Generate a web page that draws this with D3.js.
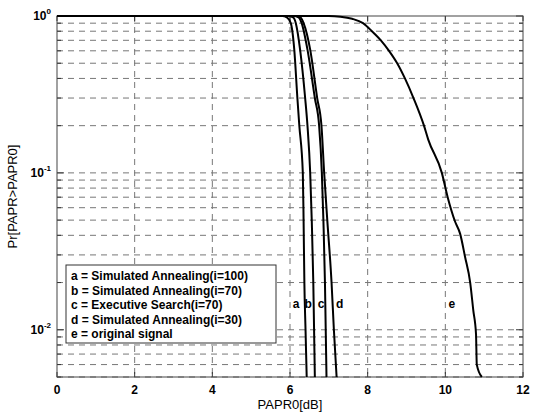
<!DOCTYPE html>
<html>
<head>
<meta charset="utf-8">
<script src="https://cdn.jsdelivr.net/npm/d3@7/dist/d3.min.js"></script>
<style>
  body { margin: 0; background: #fff; }
  svg { display: block; font-family: "Liberation Sans", Arial, sans-serif; }
</style>
</head>
<body>
<svg class="chart"></svg>
<script>
// values: [PAPR0 dB, Pr]
var curveA = [[0,1],[5.8,1],[5.92,0.98],[6.02,0.9],[6.11,0.61],[6.19,0.3],[6.24,0.2],[6.33,0.1],[6.35,0.05],[6.37,0.02],[6.40,0.01],[6.43,0.005]];
var curveB = [[0,1],[5.95,1],[6.08,0.98],[6.15,0.9],[6.26,0.61],[6.39,0.3],[6.45,0.2],[6.52,0.1],[6.56,0.05],[6.60,0.02],[6.62,0.01],[6.64,0.005]];
var curveC = [[0,1],[6.1,1],[6.22,0.98],[6.3,0.9],[6.45,0.61],[6.64,0.3],[6.75,0.2],[6.82,0.1],[6.86,0.05],[6.90,0.02],[6.92,0.01],[6.94,0.005]];
var curveD = [[0,1],[6.15,1],[6.27,0.98],[6.35,0.9],[6.52,0.61],[6.70,0.3],[6.81,0.2],[6.88,0.1],[6.96,0.05],[7.07,0.02],[7.13,0.01],[7.20,0.005]];
var curveE = [[0,1],[7.0,1],[7.3,0.99],[7.6,0.96],[7.88,0.9],[8.11,0.8],[8.34,0.7],[8.55,0.6],[8.76,0.5],[8.96,0.4],[9.18,0.3],[9.45,0.2],[9.56,0.163],[9.91,0.1],[10.06,0.07],[10.25,0.049],[10.38,0.041],[10.51,0.029],[10.64,0.02],[10.72,0.0133],[10.79,0.0094],[10.81,0.006],[10.94,0.005]];

var curveNames = ["a", "b", "c", "d", "e"];
var legendLabels = [
	"a = Simulated Annealing(i=100)",
	"b = Simulated Annealing(i=70)",
	"c = Executive Search(i=70)",
	"d = Simulated Annealing(i=30)",
	"e = original signal"
];
// where the little letters sit next to the curves
var letterX = [6.16, 6.47, 6.8, 7.28, 10.17];
var letterY = 0.0145;

var xTicks = [0, 2, 4, 6, 8, 10, 12];
var yMajor = [1, 0.1, 0.01];
var yMajorExp = ["0", "-1", "-2"];
var yMinor = [0.005, 0.006, 0.007, 0.008, 0.009,
	0.01, 0.02, 0.03, 0.04, 0.05, 0.06, 0.07, 0.08, 0.09,
	0.1, 0.2, 0.3, 0.4, 0.5, 0.6, 0.7, 0.8, 0.9];

window.onload = function() {

	var margin = {top: 16, right: 13, bottom: 35, left: 57},
		width = 536 - margin.left - margin.right,
		height = 412 - margin.top - margin.bottom,
		x = d3.scaleLinear().domain([0, 12]).range([0, width]),
		y = d3.scaleLog().domain([0.005, 1]).range([height, 0]);

	var svg = d3.select(".chart")
		.attr("width", 536)
		.attr("height", 412)
	  .append("g")
		.attr("transform", "translate(" + margin.left + "," + margin.top + ")");

	// dashed grid
	svg.selectAll(".hgrid")
		.data(yMinor)
	  .enter().append("line")
		.attr("x1", 0).attr("x2", width)
		.attr("y1", function(d) { return y(d); })
		.attr("y2", function(d) { return y(d); })
		.attr("stroke", "#777")
		.attr("stroke-dasharray", "6,5");
	svg.selectAll(".vgrid")
		.data(xTicks.slice(1, -1))
	  .enter().append("line")
		.attr("y1", 0).attr("y2", height)
		.attr("x1", function(d) { return x(d); })
		.attr("x2", function(d) { return x(d); })
		.attr("stroke", "#777")
		.attr("stroke-dasharray", "6,5");

	// inside ticks on all four sides
	var yTickVals = yMinor.concat([1]);
	[0, width].forEach(function(x0, i) {
		var dir = i === 0 ? 1 : -1;
		svg.selectAll(".yt" + i)
			.data(yTickVals)
		  .enter().append("line")
			.attr("x1", x0)
			.attr("x2", function(d) { return x0 + dir * (yMajor.indexOf(d) >= 0 ? 7 : 4); })
			.attr("y1", function(d) { return y(d); })
			.attr("y2", function(d) { return y(d); })
			.attr("stroke", "#333");
	});
	[height, 0].forEach(function(y0, i) {
		var dir = i === 0 ? -1 : 1;
		svg.selectAll(".xt" + i)
			.data(xTicks)
		  .enter().append("line")
			.attr("y1", y0).attr("y2", y0 + dir * 5)
			.attr("x1", function(d) { return x(d); })
			.attr("x2", function(d) { return x(d); })
			.attr("stroke", "#333");
	});

	// x tick labels
	svg.selectAll(".xl")
		.data(xTicks)
	  .enter().append("text")
		.attr("x", function(d) { return x(d); })
		.attr("y", height + 17)
		.attr("text-anchor", "middle")
		.attr("font-size", "12px")
		.attr("font-weight", "bold")
		.text(function(d) { return d; });

	// y tick labels 10^n
	yMajor.forEach(function(v, i) {
		var t = svg.append("text")
			.attr("x", -6)
			.attr("y", y(v) + 4)
			.attr("text-anchor", "end")
			.attr("font-size", "12px")
			.attr("font-weight", "bold");
		t.append("tspan").text("10");
		t.append("tspan")
			.attr("dy", -6)
			.attr("font-size", "8px")
			.text(yMajorExp[i]);
	});

	// axis titles
	svg.append("text")
		.attr("x", width / 2)
		.attr("y", height + 32)
		.attr("text-anchor", "middle")
		.attr("font-size", "13px")
		.text("PAPR0[dB]");
	svg.append("text")
		.attr("transform", "translate(" + (-40) + "," + (height / 2) + ") rotate(-90)")
		.attr("text-anchor", "middle")
		.attr("font-size", "13px")
		.text("Pr[PAPR>PAPR0]");

	// box
	svg.append("rect")
		.attr("width", width)
		.attr("height", height)
		.attr("fill", "none")
		.attr("stroke", "#444");

	// the curves
	var line = d3.line()
		.x(function(d) { return x(d[0]); })
		.y(function(d) { return y(d[1]); })
		.curve(d3.curveMonotoneX);
	[curveA, curveB, curveC, curveD, curveE].forEach(function(c, i) {
		svg.append("path")
			.attr("class", "curve_" + curveNames[i])
			.attr("d", line(c))
			.attr("fill", "none")
			.attr("stroke", "#000")
			.attr("stroke-width", 2);
	});

	// letters next to the curves
	svg.selectAll(".letter")
		.data(curveNames)
	  .enter().append("text")
		.attr("x", function(d, i) { return x(letterX[i]); })
		.attr("y", y(letterY) + 4)
		.attr("text-anchor", "middle")
		.attr("font-size", "12px")
		.attr("font-weight", "bold")
		.text(function(d) { return d; });

	// legend
	var legend = svg.append("g")
		.attr("transform", "translate(" + (66 - margin.left) + "," + (265 - margin.top) + ")");
	legend.append("rect")
		.attr("width", 210)
		.attr("height", 78)
		.attr("fill", "#fff")
		.attr("stroke", "#333");
	legend.selectAll("text")
		.data(legendLabels)
	  .enter().append("text")
		.attr("x", 5)
		.attr("y", function(d, i) { return 15 + i * 14.5; })
		.attr("font-size", "12px")
		.attr("font-weight", "bold")
		.text(function(d) { return d; });
};
</script>
</body>
</html>
